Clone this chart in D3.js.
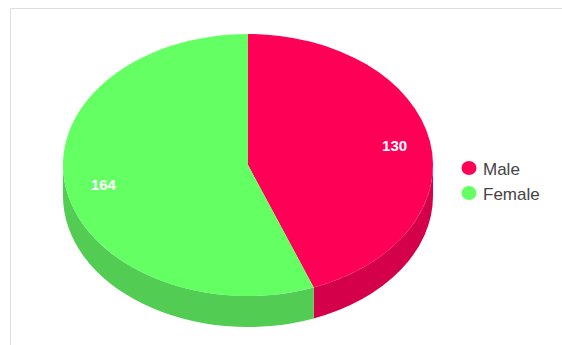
<!DOCTYPE html>
<html>
<head>
<meta charset="utf-8">
<script src="https://cdn.jsdelivr.net/npm/d3@7"></script>
<style>
  html, body { margin: 0; padding: 0; background: #fff; }
  svg { display: block; font-family: "Liberation Sans", Arial, sans-serif; }
</style>
</head>
<body>
<svg id="chart" width="562" height="345"></svg>
<script>
// Gender split
const categories = ["Male", "Female"];
const values = [130, 164];
const topColors = ["#ff0057", "#63ff63"];
const sideColors = ["#d5004a", "#52cc52"];

const W = 562, H = 345;
const svg = d3.select("#chart");

// panel frame
svg.append("path")
  .attr("d", `M10.5,${H} V8.5 H${W}`)
  .attr("fill", "none")
  .attr("stroke", "#dedede")
  .attr("stroke-width", 1);

const cx = 248, cy = 165, rx = 185, ry = 131, depth = 31;

const pie = d3.pie().sort(null).value(d => d.v).startAngle(0).endAngle(2 * Math.PI);
const arcs = pie(categories.map((c, i) => ({ c, v: values[i], i })));

const pt = (a, dy = 0) => [cx + rx * Math.sin(a), cy - ry * Math.cos(a) + dy];

// side walls (only the front half of the rim is visible)
const g = svg.append("g");
arcs.forEach(d => {
  const a0 = Math.max(d.startAngle, Math.PI / 2);
  const a1 = Math.min(d.endAngle, 3 * Math.PI / 2);
  if (a1 <= a0) return;
  const p0 = pt(a0), p1 = pt(a1), q1 = pt(a1, depth), q0 = pt(a0, depth);
  const large = (a1 - a0) > Math.PI ? 1 : 0;
  g.append("path")
    .attr("d", `M${p0} A${rx},${ry} 0 ${large} 1 ${p1} L${q1} A${rx},${ry} 0 ${large} 0 ${q0} Z`)
    .attr("fill", sideColors[d.data.i]);
});

// top faces
arcs.forEach(d => {
  const p0 = pt(d.startAngle), p1 = pt(d.endAngle);
  const large = (d.endAngle - d.startAngle) > Math.PI ? 1 : 0;
  g.append("path")
    .attr("d", `M${cx},${cy} L${p0} A${rx},${ry} 0 ${large} 1 ${p1} Z`)
    .attr("fill", topColors[d.data.i]);
});

// value labels
arcs.forEach(d => {
  const m = (d.startAngle + d.endAngle) / 2;
  const [x, y] = [cx + rx * 0.8 * Math.sin(m), cy - ry * 0.82 * Math.cos(m)];
  g.append("text")
    .attr("x", x + 1).attr("y", y)
    .attr("text-anchor", "middle")
    .attr("dominant-baseline", "central")
    .attr("fill", "#fff")
    .attr("font-size", 15)
    .attr("font-weight", "bold")
    .text(d.data.v);
});

// legend
const legend = svg.append("g").attr("transform", "translate(469,168)");
categories.forEach((c, i) => {
  const row = legend.append("g").attr("transform", `translate(0,${i * 25})`);
  row.append("ellipse").attr("rx", 7.5).attr("ry", 7).attr("fill", topColors[i]);
  row.append("text")
    .attr("x", 14).attr("y", 1)
    .attr("dominant-baseline", "central")
    .attr("font-size", 17)
    .attr("fill", "#444")
    .text(c);
});
</script>
</body>
</html>
